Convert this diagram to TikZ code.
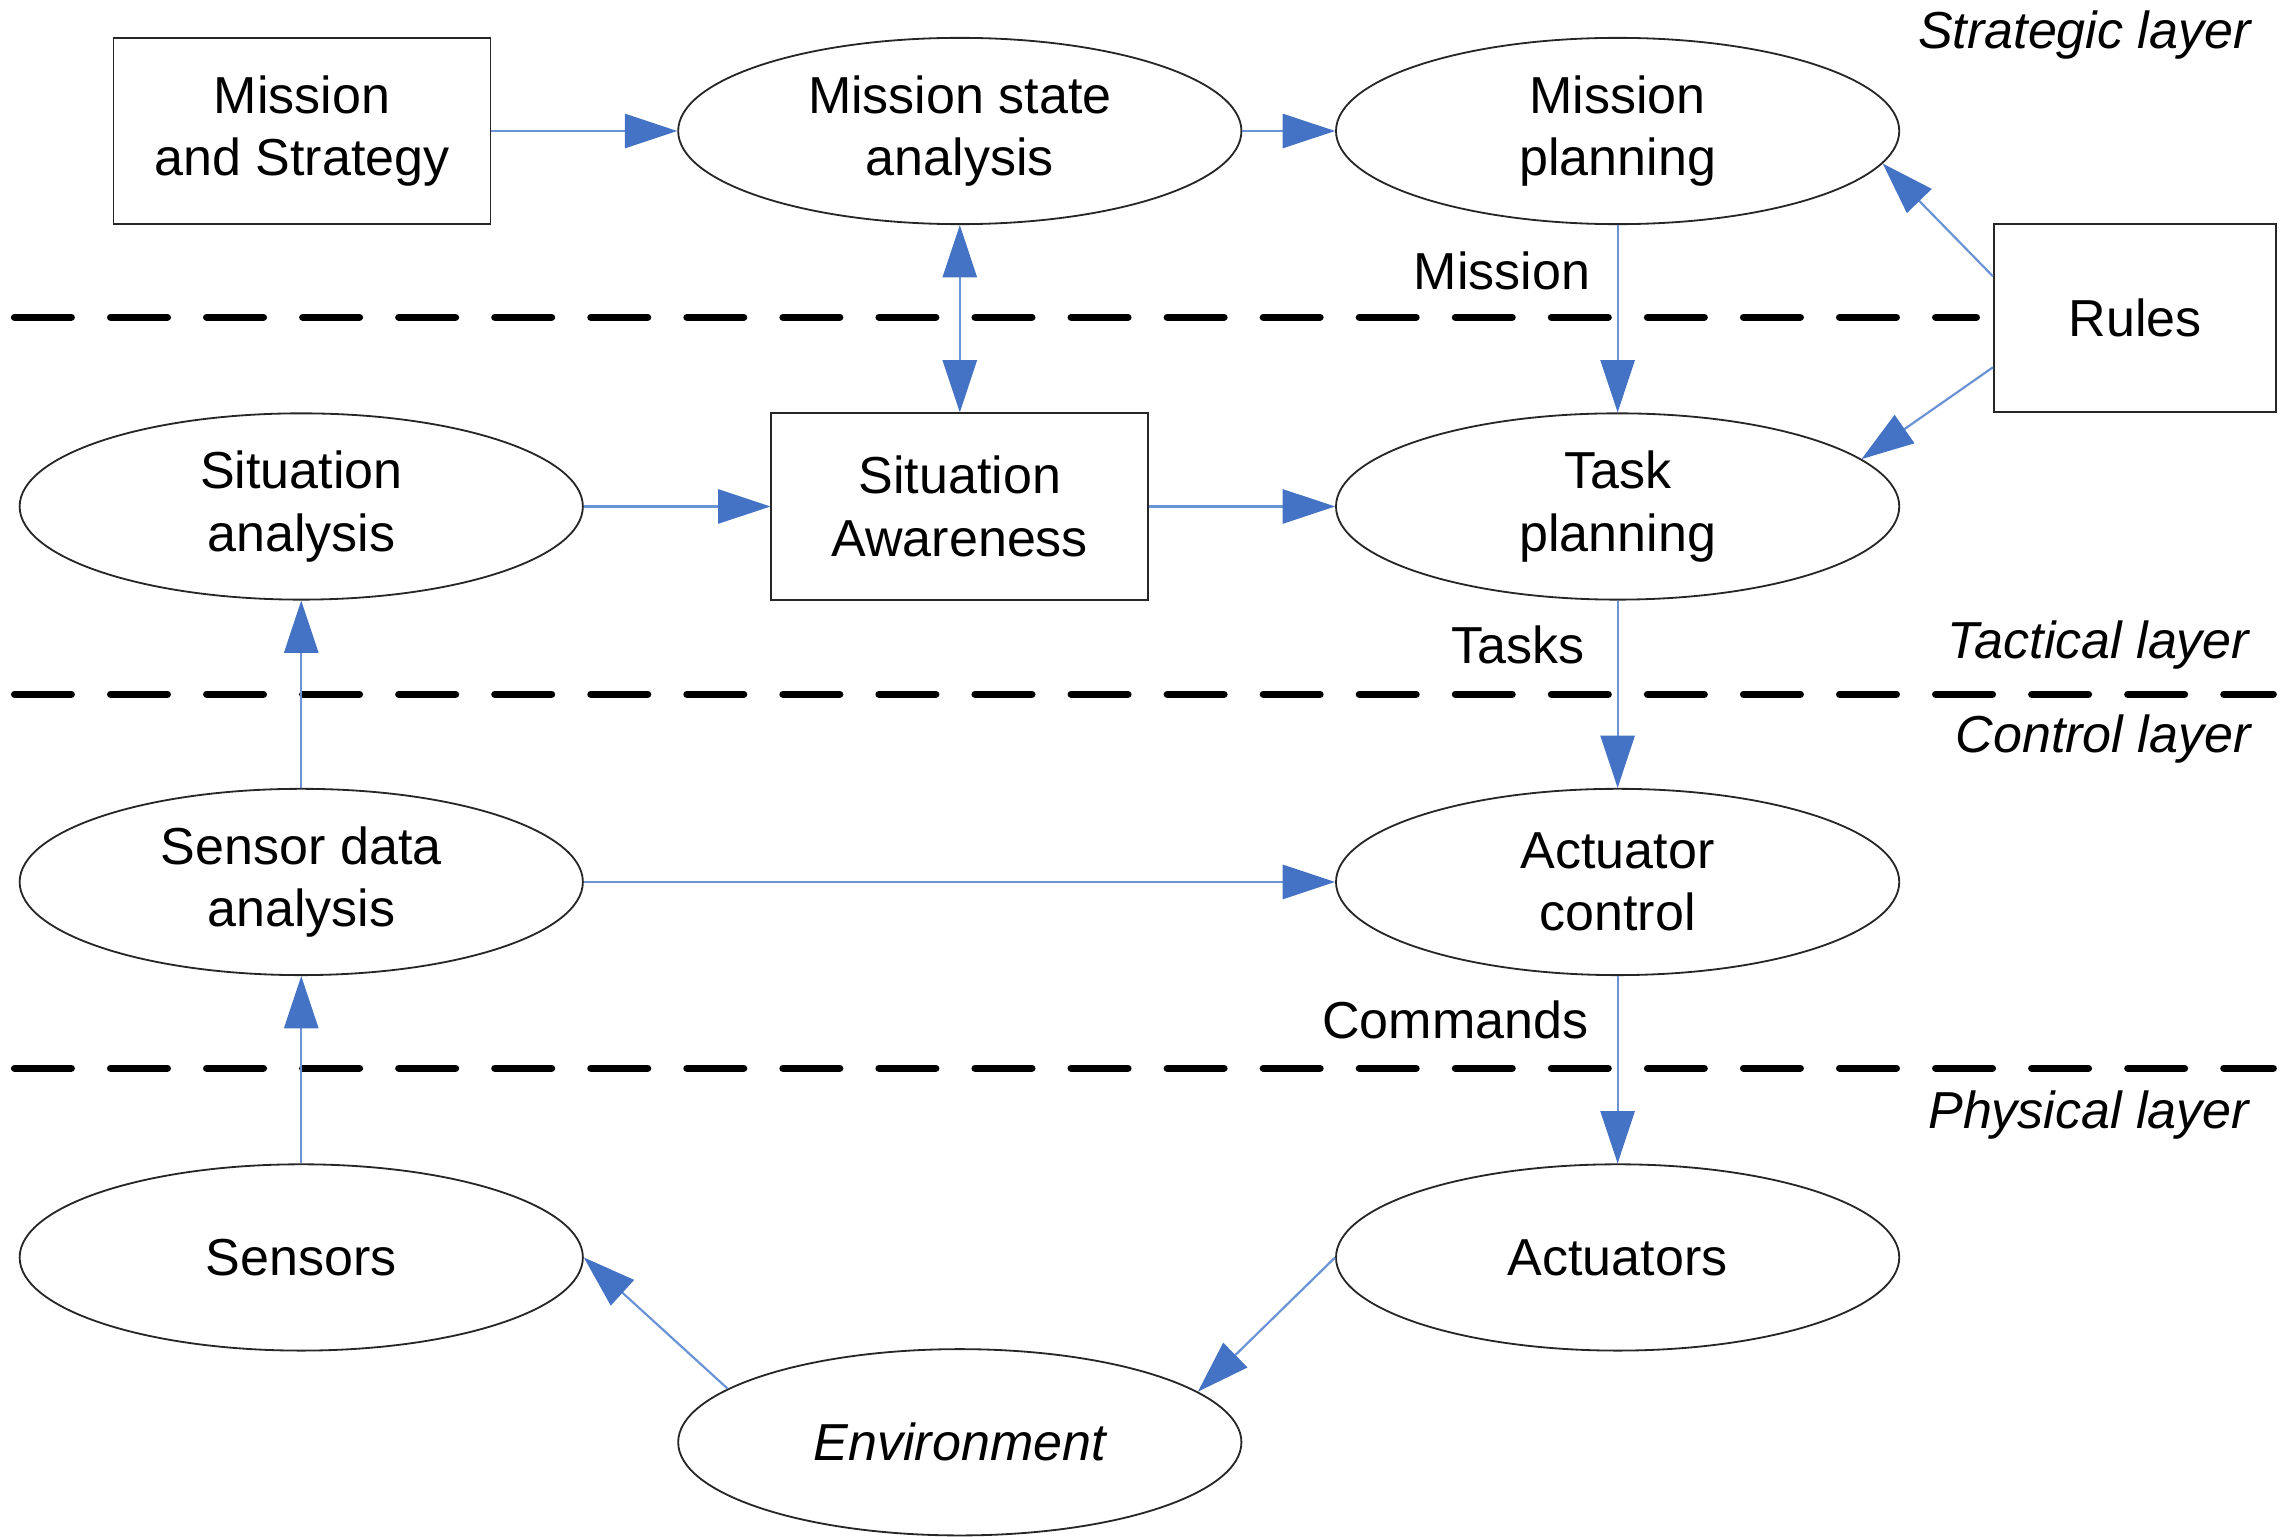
\documentclass[tikz,border=0pt]{standalone}
\usepackage{fontspec}
\setmainfont{Liberation Sans}
\usetikzlibrary{arrows.meta,shapes.geometric,calc}
\definecolor{arrblue}{HTML}{4472C4}
\definecolor{lineblue}{HTML}{6A93D6}
\tikzset{
  base/.style={draw=black!85, line width=0.5pt, inner sep=0pt, align=center,
    font=\fontsize{14.3}{17.2}\selectfont},
  ell/.style={base, ellipse, minimum width=154.8pt, minimum height=51.2pt},
  boxnode/.style={base, rectangle, minimum width=103.6pt, minimum height=51.2pt},
  flow/.style={draw=lineblue, line width=0.6pt,
    -{Triangle[length=14.4pt, width=9.4pt, fill=arrblue, color=arrblue]}},
  biflow/.style={draw=lineblue, line width=0.6pt,
    {Triangle[length=14.4pt, width=9.4pt, fill=arrblue, color=arrblue]}-{Triangle[length=14.4pt, width=9.4pt, fill=arrblue, color=arrblue]}},
  layersep/.style={draw=black, line width=2pt, line cap=round, dash pattern=on 15.6pt off 10.8pt},
  lbl/.style={font=\fontsize{14.3}{17.2}\selectfont, inner sep=0pt},
  layerlbl/.style={font=\fontsize{14.3}{17.2}\selectfont\itshape, inner sep=0pt, anchor=east}
}
\begin{document}
\begin{tikzpicture}[x=0.4pt, y=-0.4pt]
\useasboundingbox (0,0) rectangle (1568,1056);

% layer separators
\coordinate (d1a) at (10,218);
\coordinate (d1b) at (1358,218);
\coordinate (d2a) at (10,477);
\coordinate (d2b) at (1562,477);
\coordinate (d3a) at (10,734);
\coordinate (d3b) at (1562,734);
\draw[layersep] (d1a) -- (d1b);
\draw[layersep] (d2a) -- (d2b);
\draw[layersep] (d3a) -- (d3b);

% nodes
\node[boxnode] (ms) at (207.5,90) {Mission\\and Strategy};
\node[ell] (msa) at (659.5,90) {Mission state\\analysis};
\node[ell] (mp) at (1111.5,90) {Mission\\planning};
\node[boxnode, minimum width=77.6pt, minimum height=51.6pt] (rules) at (1467,218.5) {Rules};
\node[ell] (sa) at (207,348) {Situation\\analysis};
\node[boxnode] (saw) at (659.5,348) {Situation\\Awareness};
\node[ell] (tp) at (1111.5,348) {Task\\planning};
\node[ell] (sda) at (207,606) {Sensor data\\analysis};
\node[ell] (ac) at (1111.5,606) {Actuator\\control};
\node[ell] (sen) at (207,864) {Sensors};
\node[ell] (act) at (1111.5,864) {Actuators};
\node[ell, font=\fontsize{14.3}{17.2}\selectfont\itshape] (env) at (659.5,991) {Environment};

% labels
\node[lbl] (lmission) at (1032,186) {Mission};
\node[lbl] (ltasks) at (1043,443) {Tasks};
\node[lbl] (lcommands) at (1000,701) {Commands};
\node[layerlbl] (lstrat) at (1547,24) {Strategic layer};
\node[layerlbl] (ltact) at (1546,443) {Tactical layer};
\node[layerlbl] (lctrl) at (1547,508) {Control layer};
\node[layerlbl] (lphys) at (1546,766) {Physical layer};

% connectors
\draw[flow] (ms.east) -- (msa.west);
\draw[flow] (msa.east) -- (mp.west);
\draw[biflow] (msa.south) -- (saw.north);
\draw[flow] (mp.south) -- (tp.north);
\coordinate (r1) at ($(rules.north west)!0.28!(rules.south west)$);
\coordinate (r2) at ($(rules.north west)!0.76!(rules.south west)$);
\draw[flow] (r1) -- (mp.-7);
\draw[flow] (r2) -- (tp.11);
\draw[flow] (sa.east) -- (saw.west);
\draw[flow] (saw.east) -- (tp.west);
\draw[flow] (tp.south) -- (ac.north);
\draw[flow] (sda.north) -- (sa.south);
\draw[flow] (sda.east) -- (ac.west);
\draw[flow] (ac.south) -- (act.north);
\draw[flow] (sen.north) -- (sda.south);
\draw[flow] (act.west) -- (env.12);
\draw[flow] (env.167) -- (sen.east);
\end{tikzpicture}
\end{document}
